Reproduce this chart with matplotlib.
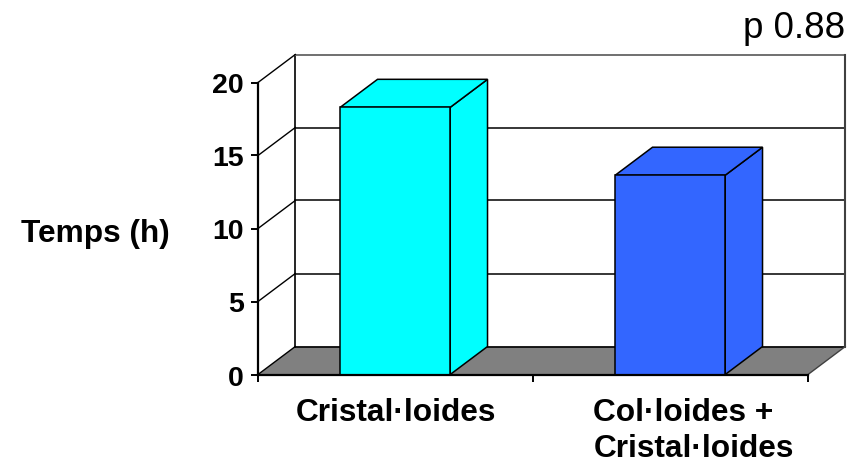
import matplotlib
matplotlib.use("Agg")
import matplotlib.pyplot as plt
from matplotlib.patches import Polygon

categories = ["Cristal·loides", "Col·loides +\nCristal·loides"]
values = [18.3, 13.65]
colors = ["#00FFFF", "#3366FF"]
yticks = [0, 5, 10, 15, 20]

plt.rcParams["font.family"] = ["Liberation Sans", "DejaVu Sans"]
W, H = 858, 464
fig = plt.figure(figsize=(W / 100, H / 100), dpi=100)
L, R, T, B = 258, 808, 83.5, 375.5
ax = fig.add_axes([L / W, 1 - B / H, (R - L) / W, (B - T) / H])
ax.set_xlim(0, 2)
ax.set_ylim(0, 20)
ax.patch.set_visible(False)
for s in ("top", "right"):
    ax.spines[s].set_visible(False)
for s in ("left", "bottom"):
    ax.spines[s].set_linewidth(1.6)
    ax.spines[s].set_zorder(10)

dx = 37.3 / 275
dy = 28 / 14.6

# floor and walls
ax.add_patch(Polygon([(0, 0), (2, 0), (2 + dx, dy), (dx, dy)], closed=True,
                     fc="#808080", ec="none", clip_on=False, zorder=1))
ax.plot([dx, 2 + dx], [dy, dy], color="black", lw=1.2, clip_on=False, zorder=2)
ax.plot([2, 2 + dx], [0, dy], color="#404040", lw=1, clip_on=False, zorder=2)
ax.plot([dx, dx], [dy, 20 + dy], color="black", lw=1.2, clip_on=False, zorder=2)
ax.plot([dx, 2 + dx], [20 + dy, 20 + dy], color="#707070", lw=1.4, clip_on=False, zorder=2)
ax.plot([2 + dx, 2 + dx], [dy, 20 + dy], color="#404040", lw=1.5, clip_on=False, zorder=3)
for v in yticks[1:]:
    ax.plot([0, dx], [v, v + dy], color="black", lw=1, clip_on=False, zorder=2)
    if v < 20:
        ax.plot([dx, 2 + dx], [v + dy, v + dy], color="black", lw=1.1, clip_on=False, zorder=2)
ax.plot([0, dx], [0, dy], color="black", lw=1, clip_on=False, zorder=2)

# 3D bars
w = 0.4
for i, (val, c) in enumerate(zip(values, colors)):
    xc = i + 0.499
    x0, x1 = xc - w / 2, xc + w / 2
    ax.bar(xc, val, w, color=c, edgecolor="black", linewidth=1.1, zorder=4, clip_on=False)
    ax.add_patch(Polygon([(x1, 0), (x1 + dx, dy), (x1 + dx, val + dy), (x1, val)], closed=True,
                         fc=c, ec="black", lw=1.1, clip_on=False, zorder=3))
    ax.add_patch(Polygon([(x0, val), (x1, val), (x1 + dx, val + dy), (x0 + dx, val + dy)], closed=True,
                         fc=c, ec="black", lw=1.1, clip_on=False, zorder=3))

ax.set_yticks(yticks)
ax.set_yticklabels([str(v) for v in yticks], fontsize=20.5, fontweight="bold")
ax.set_xticks([0, 1, 2])
ax.set_xticklabels([])
ax.tick_params(axis="both", length=5, width=1.4, color="black", pad=5)

label_x = [0.5, 1.584]
for x, lab in zip(label_x, categories):
    ax.text(x, -1.55, lab, fontsize=22.8, fontweight="bold",
            ha="center", va="top", multialignment="left", linespacing=1.24, clip_on=False)

fig.text(95 / W, 1 - 234 / H, "Temps (h)", fontsize=22.8, fontweight="bold", ha="center", va="center")
fig.text(794.5 / W, 1 - 28 / H, "p 0.88", fontsize=26.5, ha="center", va="center")

fig.savefig("out.png", dpi=100)
